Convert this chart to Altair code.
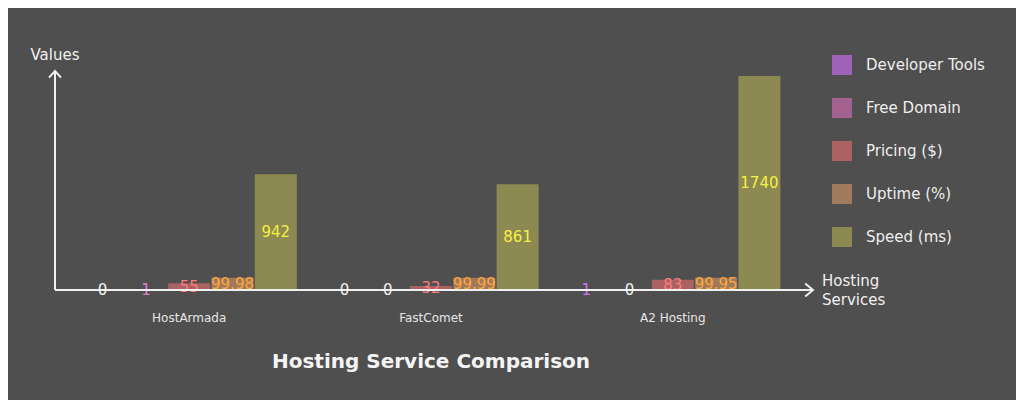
import altair as alt
import pandas as pd

FONT = "DejaVu Sans"

categories = ["HostArmada", "FastComet", "A2 Hosting"]
series = ["Developer Tools", "Free Domain", "Pricing ($)", "Uptime (%)", "Speed (ms)"]

developer_tools = [0, 0, 1]
free_domain = [1, 0, 0]
pricing = [55, 32, 83]
uptime = [99.98, 99.99, 99.95]
speed = [942, 861, 1740]

bar_colors = ["#9d63b8", "#a3638e", "#ab6262", "#a07a5c", "#8c8a52"]
label_colors = ["#c97ae6", "#e07ccc", "#ff7b7b", "#ffa63a", "#f7ef3f"]
zero_color = "#f2f2f2"

values = [developer_tools, free_domain, pricing, uptime, speed]
rows = []
for si, s in enumerate(series):
    for ci, c in enumerate(categories):
        v = values[si][ci]
        rows.append({
            "category": c,
            "series": s,
            "value": v,
            "label": str(v),
            "lc": label_colors[si] if v != 0 else zero_color,
        })
df = pd.DataFrame(rows)

X = alt.X(
    "category:N", sort=categories,
    scale=alt.Scale(paddingInner=0.11, paddingOuter=0.11),
    axis=alt.Axis(title=None, domain=False, ticks=False, grid=False, labelAngle=0,
                  labelPadding=22, labelFontSize=12, labelColor="#e6e6e6", labelFont=FONT),
)
XO = alt.XOffset("series:N", sort=series, scale=alt.Scale(paddingInner=0.03))
YS = alt.Scale(domain=[0, 1781], nice=False)

bars = alt.Chart(df).mark_bar(opacity=1).encode(
    x=X,
    xOffset=XO,
    y=alt.Y("value:Q", scale=YS, axis=None),
    color=alt.Color(
        "series:N", sort=series,
        scale=alt.Scale(domain=series, range=bar_colors),
        legend=alt.Legend(
            title=None, orient="none", legendX=777, legendY=-16,
            symbolType="square", symbolSize=400, symbolStrokeWidth=0, symbolOpacity=1,
            labelFontSize=15, labelColor="#eeeeee", labelFont=FONT,
            rowPadding=23, labelOffset=14, padding=0,
        ),
    ),
)

labels = alt.Chart(df).transform_calculate(half="datum.value / 2").mark_text(
    fontSize=15, font=FONT, baseline="middle", align="center"
).encode(
    x=X,
    xOffset=XO,
    y=alt.Y("half:Q", scale=YS, axis=None),
    text="label:N",
    fill=alt.Fill("lc:N", scale=None),
)

deco = pd.DataFrame({"k": [0]})
AXC = "#f0f0f0"
xline = alt.Chart(deco).mark_rule(color=AXC, strokeWidth=2).encode(
    x=alt.value(0), x2=alt.value(758), y=alt.value(219))
yline = alt.Chart(deco).mark_rule(color=AXC, strokeWidth=2).encode(
    x=alt.value(0), y=alt.value(0), y2=alt.value(219))
xarrow = alt.Chart(deco).mark_point(
    shape="M-1.2,-1L0,0L-1.2,1", filled=False, size=169, strokeWidth=2, color=AXC, opacity=1
).encode(x=alt.value(758), y=alt.value(219))
yarrow = alt.Chart(deco).mark_point(
    shape="M-1,1.1L0,0L1,1.1", filled=False, size=144, strokeWidth=2, color=AXC, opacity=1
).encode(x=alt.value(0), y=alt.value(0))

ytitle = alt.Chart(deco).mark_text(
    fontSize=15, font=FONT, color=AXC, align="center", baseline="middle"
).encode(x=alt.value(0), y=alt.value(-16), text=alt.value("Values"))
xtitle = alt.Chart(deco).mark_text(
    fontSize=15, font=FONT, color=AXC, align="left", baseline="middle", lineHeight=19
).encode(x=alt.value(767), y=alt.value(210), text=alt.value(["Hosting", "Services"]))

chart = alt.layer(bars, labels, xline, yline, xarrow, yarrow, ytitle, xtitle).properties(
    width=752,
    height=219,
    autosize=alt.AutoSizeParams(type="none"),
    padding={"left": 47, "top": 63, "right": 209, "bottom": 110},
    background="#4f4f4f",
    title=alt.TitleParams(
        "Hosting Service Comparison", orient="bottom", anchor="middle",
        fontSize=20, fontWeight="bold", color="#f5f5f5", font=FONT, offset=29,
    ),
).configure_view(stroke=None)

chart.save("out.html", embed_options={"renderer": "svg", "actions": False})
